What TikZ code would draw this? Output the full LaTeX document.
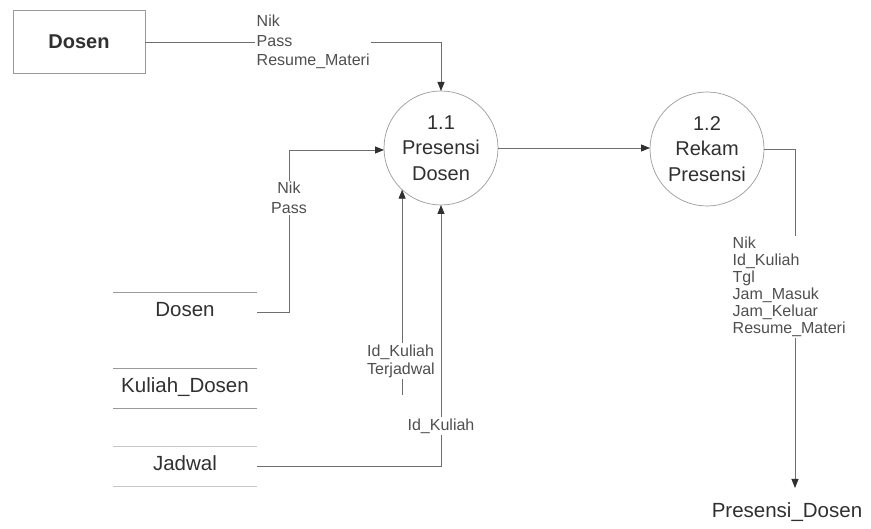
\documentclass[tikz,border=0pt]{standalone}
\usepackage{fontspec}
\setmainfont{Liberation Sans}
\usetikzlibrary{arrows.meta,calc}
\definecolor{linec}{HTML}{6E6E6E}
\definecolor{txtc}{HTML}{303030}
\definecolor{circc}{HTML}{9A9A9A}
\begin{document}
\begin{tikzpicture}[x=1pt,y=-1pt,
  flow/.style={draw=linec, line width=0.8pt, -{Triangle[length=9pt,width=7pt,color=txtc]}},
  proc/.style={circle, draw=circc, line width=0.7pt, minimum size=114pt, inner sep=0pt, outer sep=0pt, align=center, text=txtc, font=\fontsize{20}{25.5}\selectfont},
  entbox/.style={draw=circc, line width=0.8pt, minimum width=132pt, minimum height=63pt, inner sep=0pt, outer sep=0pt, text=txtc, font=\fontsize{20}{24}\selectfont\bfseries},
  store/.style={minimum width=144pt, minimum height=40pt, inner sep=0pt, outer sep=0pt, text height=14.5pt, text depth=4.5pt, text=txtc, font=\fontsize{20.5}{24}\selectfont},
  lbl/.style={fill=white, inner sep=1.5pt, text=txtc!85!white, font=\fontsize{16}{19.5}\selectfont},
  storeline/.style={draw=circc, line width=0.8pt}
]
\path[use as bounding box] (0,0) rectangle (871,529);

% nodes
\node[entbox] (dosenE) at (79,42) {Dosen};
\node[proc] (p11) at (441,148) {1.1\\Presensi\\Dosen};
\node[proc] (p12) at (707,149) {1.2\\Rekam\\Presensi};
\node[store] (sDosen) at (185,312) {Dosen};
\node[store] (sKuliah) at (185,388) {Kuliah\_Dosen};
\node[store] (sJadwal) at (185,466) {Jadwal};
\node[store] (sPres) at (787,512) {Presensi\_Dosen};

% data store lines
\draw[storeline] (sDosen.north west) -- (sDosen.north east);
\draw[storeline] (sKuliah.north west) -- (sKuliah.north east);
\draw[storeline] (sKuliah.south west) -- (sKuliah.south east);
\draw[storeline, draw=circc!55!white] (sJadwal.north west) -- (sJadwal.north east);
\draw[storeline, draw=circc!55!white] (sJadwal.south west) -- (sJadwal.south east);

% flows
\draw[flow] (dosenE.east) -| (p11.north);
\coordinate (k1) at (289,150);
\draw[flow] (sDosen.east) -| (k1) -- (k1 -| p11.west);
\draw[flow] (p11.east) -- (p11.east -| p12.west);
\draw[flow] (p12.east) -| ([xshift=8pt,yshift=4pt]sPres.north);
\coordinate (t1) at (p11.227 |- 0,395);
\draw[flow] (t1) -- (p11.227);
\draw[flow] (sJadwal.east) -| (p11.south);

% labels
\node[lbl, anchor=west, align=left] (lTop) at (255,42) {Nik\\Pass\\Resume\_Materi};
\node[lbl, align=center, font=\fontsize{16}{20}\selectfont] (lNP) at (289,198) {Nik\\Pass};
\node[lbl, align=left, font=\fontsize{16}{18}\selectfont] (lIK) at (401,361) {Id\_Kuliah\\Terjadwal};
\node[lbl] (lIK2) at (441,426) {Id\_Kuliah};
\node[lbl, anchor=west, align=left, font=\fontsize{16}{17}\selectfont] (lR) at (731,287) {Nik\\Id\_Kuliah\\Tgl\\Jam\_Masuk\\Jam\_Keluar\\Resume\_Materi};
\end{tikzpicture}
\end{document}
